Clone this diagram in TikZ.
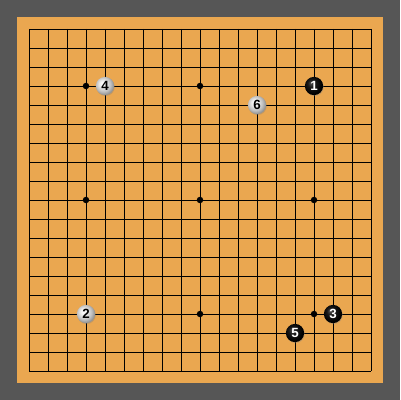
\documentclass[tikz,border=0pt]{standalone}
\usepackage{fontspec}
\setsansfont{Liberation Sans}
\usetikzlibrary{shadows}
\definecolor{slate}{RGB}{86,86,86}
\definecolor{kaya}{RGB}{234,167,80}
\pgfdeclareradialshading{blackstone}{\pgfpoint{-9bp}{9bp}}{color(0bp)=(black!68); color(10bp)=(black!90); color(25bp)=(black); color(50bp)=(black)}
\pgfdeclareradialshading{whitestone}{\pgfpoint{-8bp}{8bp}}{color(0bp)=(white); color(8bp)=(black!6); color(20bp)=(black!25); color(27bp)=(black!42); color(50bp)=(black!45)}
\tikzset{%
	hoshi/.style  = {circle, fill=black, inner sep=0pt, minimum size=1.7mm},
	stone/.style  = {circle, inner sep=0pt, minimum size=4.8mm, font={\sffamily\bfseries\fontsize{10}{10}\selectfont}, drop shadow={shadow xshift=0.5pt, shadow yshift=-0.7pt, opacity=0.35}},
	bstone/.style = {stone, shade, shading=blackstone, text=white},
	wstone/.style = {stone, shade, shading=whitestone, text=black},
}
\begin{document}
\begin{tikzpicture}[x=0.5cm,y=-0.5cm]
	\fill[slate] (-1.5263,-1.5263) rectangle (19.5263,19.5263);
	\fill[kaya] (-0.6316,-0.6316) rectangle (18.6316,18.6316);
	
	\foreach \i in {0,...,18} \draw[line width=0.65pt] (\i,0) -- (\i,18) (0,\i) -- (18,\i);
	
	\foreach \x in {3,9,15} \foreach \y in {3,9,15} \node[hoshi] (h\x\y) at (\x,\y) {};
	
	\node[bstone] (s1) at (15,3)  {1};
	\node[wstone] (s2) at (3,15)  {2};
	\node[bstone] (s3) at (16,15) {3};
	\node[wstone] (s4) at (4,3)   {4};
	\node[bstone] (s5) at (14,16) {5};
	\node[wstone] (s6) at (12,4)  {6};
\end{tikzpicture}
\end{document}
